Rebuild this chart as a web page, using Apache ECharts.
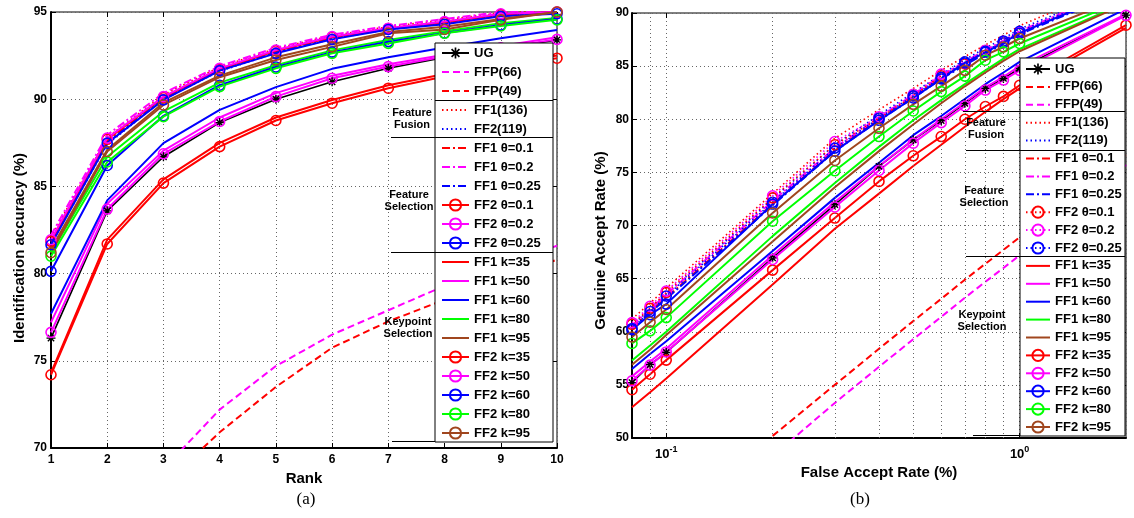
<!DOCTYPE html>
<html><head><meta charset="utf-8">
<script src="https://cdn.jsdelivr.net/npm/echarts@6/dist/echarts.min.js"></script>
<style>html,body{margin:0;padding:0;background:#fff}#c{width:1134px;height:518px}</style>
</head><body><div id="c"></div>
<script>
// ---------- (a) CMC: rank vs identification accuracy ----------
const ranks = [1, 2, 3, 4, 5, 6, 7, 8, 9, 10];
const a_UG      = [76.3, 83.6, 86.7, 88.66, 90.0, 91.0, 91.77, 92.4, 92.9, 93.4];
const a_FFP66   = [60.5, 65.3, 68.8, 72.2, 74.7, 76.5, 77.9, 79.3, 80.5, 81.6];
const a_FFP49   = [58.5, 63.8, 67.9, 70.9, 73.5, 75.75, 77.26, 78.5, 79.7, 80.8];
const a_FF1_136 = [82.1, 87.8, 90.25, 91.85, 92.9, 93.65, 94.15, 94.55, 94.95, 95.1];
const a_FF2_119 = [81.7, 87.4, 90.0, 91.6, 92.65, 93.45, 94.0, 94.35, 94.8, 95.0];
const a_FF1_t01 = [81.9, 87.6, 90.1, 91.7, 92.75, 93.55, 94.05, 94.45, 94.85, 95.0];
const a_FF1_t02 = [82.2, 87.95, 90.35, 91.9, 92.95, 93.7, 94.2, 94.6, 95.0, 95.1];
const a_FF1_t025= [81.8, 87.5, 90.0, 91.65, 92.7, 93.5, 94.05, 94.4, 94.85, 95.0];
const a_FF2_t01 = [81.85, 87.7, 90.1, 91.72, 92.78, 93.55, 94.05, 94.4, 94.85, 95.0];
const a_FF2_t02 = [81.94, 87.77, 90.15, 91.77, 92.82, 93.59, 94.07, 94.45, 94.9, 95.0];
const a_FF2_t025= [81.65, 87.48, 89.96, 91.64, 92.63, 93.43, 94.0, 94.3, 94.75, 94.9];
const a_FF1_k35 = [74.3, 81.95, 85.4, 87.5, 88.95, 89.95, 90.8, 91.45, 92.0, 92.5];
const a_FF1_k50 = [77.2, 84.0, 87.05, 88.95, 90.35, 91.35, 92.0, 92.55, 93.05, 93.55];
const a_FF1_k60 = [77.7, 84.2, 87.48, 89.39, 90.69, 91.74, 92.4, 92.96, 93.5, 93.97];
const a_FF1_k80 = [81.2, 86.7, 89.3, 90.95, 91.95, 92.8, 93.4, 93.9, 94.35, 94.65];
const a_FF1_k95 = [81.4, 87.1, 89.8, 91.35, 92.4, 93.15, 93.85, 94.15, 94.6, 95.0];
const a_FF2_k35 = [74.2, 81.7, 85.19, 87.28, 88.78, 89.77, 90.63, 91.3, 91.9, 92.35];
const a_FF2_k50 = [76.63, 83.7, 86.87, 88.72, 90.15, 91.2, 91.87, 92.45, 92.95, 93.43];
const a_FF2_k60 = [80.13, 86.2, 89.05, 90.8, 91.85, 92.7, 93.3, 93.8, 94.25, 94.6];
const a_FF2_k80 = [81.0, 86.4, 89.0, 90.72, 91.77, 92.63, 93.2, 93.78, 94.2, 94.55];
const a_FF2_k95 = [81.2, 87.0, 89.67, 91.26, 92.25, 93.0, 93.78, 94.0, 94.55, 95.0];

// ---------- (b) ROC: false accept rate vs genuine accept rate ----------
const far = [0.08, 0.09, 0.1, 0.2, 0.3, 0.4, 0.5, 0.6, 0.7, 0.8, 0.9, 1, 2];
const farFFP = [0.2, 0.3, 0.4, 0.5, 0.6, 0.7, 0.8, 0.9, 1, 2];
const farMinorGrid = [0.09, 0.2, 0.3, 0.4, 0.5, 0.6, 0.7, 0.8, 0.9];
const b_UG      = [55.2, 56.9, 58.05, 66.96, 71.96, 75.56, 78.06, 79.87, 81.5, 82.9, 83.84, 84.78, 89.8];
const b_FFP66   = [50.2, 55.0, 58.4, 61.0, 63.1, 64.9, 66.4, 67.7, 68.9, 76.6];
const b_FFP49   = [48.3, 53.3, 56.7, 59.3, 61.4, 63.2, 64.7, 66.0, 67.2, 75.7];
const b_FF1_136 = [61.2, 62.7, 64.1, 73.0, 78.2, 80.9, 82.9, 84.6, 85.9, 87.0, 87.9, 88.8, 93.0];
const b_FF2_119 = [60.6, 62.1, 63.5, 72.5, 77.6, 80.4, 82.5, 84.2, 85.6, 86.7, 87.6, 88.5, 92.6];
const b_FF1_t01 = [60.4, 61.9, 63.2, 72.0, 77.1, 80.0, 82.1, 83.9, 85.2, 86.3, 87.2, 88.1, 92.3];
const b_FF1_t02 = [60.6, 62.1, 63.5, 72.3, 77.3, 80.2, 82.3, 84.1, 85.4, 86.5, 87.4, 88.3, 92.5];
const b_FF1_t025= [60.3, 61.8, 63.1, 71.9, 77.0, 79.9, 82.0, 83.8, 85.1, 86.2, 87.1, 88.0, 92.2];
const b_FF2_t01 = [60.7, 62.2, 63.7, 72.6, 77.6, 80.1, 82.2, 84.1, 85.2, 86.4, 87.2, 88.1, 92.4];
const b_FF2_t02 = [60.86, 62.4, 63.83, 72.8, 77.9, 80.24, 82.34, 84.25, 85.3, 86.5, 87.3, 88.2, 92.5];
const b_FF2_t025= [60.3, 61.9, 63.36, 72.18, 77.28, 80.1, 82.2, 83.94, 85.4, 86.4, 87.37, 88.28, 92.4];
const b_FF1_k35 = [52.9, 54.3, 55.6, 64.45, 69.7, 73.0, 75.6, 77.6, 79.3, 80.7, 81.9, 82.9, 88.6];
const b_FF1_k50 = [55.8, 57.2, 58.4, 67.2, 72.2, 75.6, 78.1, 80.0, 81.6, 83.0, 84.0, 85.0, 89.9];
const b_FF1_k60 = [56.5, 57.9, 59.1, 67.6, 72.6, 75.9, 78.5, 80.3, 81.9, 83.3, 84.4, 85.4, 90.4];
const b_FF1_k80 = [57.3, 58.7, 60.0, 69.0, 74.0, 77.4, 79.9, 81.8, 83.3, 84.6, 85.7, 86.6, 91.0];
const b_FF1_k95 = [56.9, 58.3, 59.7, 68.5, 73.6, 77.0, 79.5, 81.5, 83.1, 84.4, 85.5, 86.4, 90.9];
const b_FF2_k35 = [54.54, 56.0, 57.33, 65.8, 70.7, 74.15, 76.56, 78.37, 80.0, 81.2, 82.15, 83.2, 88.85];
const b_FF2_k50 = [55.38, 56.86, 58.1, 66.8, 71.74, 75.18, 77.75, 79.68, 81.25, 82.75, 83.69, 84.6, 89.78];
const b_FF2_k60 = [60.2, 61.6, 62.6, 72.0, 77.0, 79.9, 82.0, 83.8, 85.3, 86.3, 87.2, 88.1, 92.3];
const b_FF2_k80 = [58.9, 60.08, 61.33, 70.4, 75.15, 78.37, 80.78, 82.6, 84.06, 85.56, 86.34, 87.13, 91.3];
const b_FF2_k95 = [59.5, 60.9, 62.1, 71.18, 76.12, 79.15, 81.4, 83.12, 84.6, 86.03, 86.8, 87.6, 91.6];

const yTicksA = [70, 75, 80, 85, 90, 95];
const yTicksB = [50, 55, 60, 65, 70, 75, 80, 85, 90];

// ---------- styling ----------
const FONT = '"Liberation Sans", Arial, Helvetica, sans-serif';
const COL = {r: '#ff0000', m: '#ff00ff', b: '#0000ff', g: '#00ff00', n: '#a0461e', k: '#000000'};
const STAR = 'path://M0,8.5L20,8.5L20,11.5L0,11.5ZM8.5,0L11.5,0L11.5,20L8.5,20ZM4.06,1.94L18.06,15.94L15.94,18.06L1.94,4.06ZM15.94,1.94L18.06,4.06L4.06,18.06L1.94,15.94Z';
const DASH = [7, 4], DOT = [1.5, 3], DASHDOT = [8, 3, 2, 3];
const CLEAR = 'rgba(0,0,0,0)';

function mkSeries(name, xs, ys, color, kind, gi) {
  const s = {
    name: name, type: 'line', xAxisIndex: gi, yAxisIndex: gi,
    data: xs.map((x, i) => [x, ys[i]]),
    color: color, clip: true, animation: false, silent: true,
    lineStyle: {color: color, width: 2, type: 'solid'},
    itemStyle: {color: CLEAR, borderColor: CLEAR, borderWidth: 0},
    symbol: 'none', showSymbol: false
  };
  if (kind === 'dash') s.lineStyle.type = DASH;
  if (kind === 'dot' || kind === 'dotcirc') { s.lineStyle.type = DOT; s.lineStyle.width = 1.6; }
  if (kind === 'dashdot') s.lineStyle.type = DASHDOT;
  if (kind === 'circ' || kind === 'dotcirc') {
    s.symbol = 'circle'; s.showSymbol = true; s.symbolSize = 10;
    s.itemStyle = {color: CLEAR, borderColor: color, borderWidth: 1.6};
  }
  if (kind === 'star') {
    s.symbol = STAR; s.showSymbol = true; s.symbolSize = 9;
    s.itemStyle = {color: color, borderWidth: 0};
    s.lineStyle.width = 1.6;
  }
  return s;
}

const specA = [
  ['UG', a_UG, 'k', 'star'],
  ['FFP(66)', a_FFP66, 'm', 'dash'],
  ['FFP(49)', a_FFP49, 'r', 'dash'],
  ['FF1(136)', a_FF1_136, 'r', 'dot'],
  ['FF2(119)', a_FF2_119, 'b', 'dot'],
  ['FF1 θ=0.1', a_FF1_t01, 'r', 'dashdot'],
  ['FF1 θ=0.2', a_FF1_t02, 'm', 'dashdot'],
  ['FF1 θ=0.25', a_FF1_t025, 'b', 'dashdot'],
  ['FF2 θ=0.1', a_FF2_t01, 'r', 'circ'],
  ['FF2 θ=0.2', a_FF2_t02, 'm', 'circ'],
  ['FF2 θ=0.25', a_FF2_t025, 'b', 'circ'],
  ['FF1 k=35', a_FF1_k35, 'r', 'solid'],
  ['FF1 k=50', a_FF1_k50, 'm', 'solid'],
  ['FF1 k=60', a_FF1_k60, 'b', 'solid'],
  ['FF1 k=80', a_FF1_k80, 'g', 'solid'],
  ['FF1 k=95', a_FF1_k95, 'n', 'solid'],
  ['FF2 k=35', a_FF2_k35, 'r', 'circ'],
  ['FF2 k=50', a_FF2_k50, 'm', 'circ'],
  ['FF2 k=60', a_FF2_k60, 'b', 'circ'],
  ['FF2 k=80', a_FF2_k80, 'g', 'circ'],
  ['FF2 k=95', a_FF2_k95, 'n', 'circ']
];
const specB = [
  ['UG', b_UG, 'k', 'star', far],
  ['FFP(66)', b_FFP66, 'r', 'dash', farFFP],
  ['FFP(49)', b_FFP49, 'm', 'dash', farFFP],
  ['FF1(136)', b_FF1_136, 'r', 'dot', far],
  ['FF2(119)', b_FF2_119, 'b', 'dot', far],
  ['FF1 θ=0.1', b_FF1_t01, 'r', 'dashdot', far],
  ['FF1 θ=0.2', b_FF1_t02, 'm', 'dashdot', far],
  ['FF1 θ=0.25', b_FF1_t025, 'b', 'dashdot', far],
  ['FF2 θ=0.1', b_FF2_t01, 'r', 'dotcirc', far],
  ['FF2 θ=0.2', b_FF2_t02, 'm', 'dotcirc', far],
  ['FF2 θ=0.25', b_FF2_t025, 'b', 'dotcirc', far],
  ['FF1 k=35', b_FF1_k35, 'r', 'solid', far],
  ['FF1 k=50', b_FF1_k50, 'm', 'solid', far],
  ['FF1 k=60', b_FF1_k60, 'b', 'solid', far],
  ['FF1 k=80', b_FF1_k80, 'g', 'solid', far],
  ['FF1 k=95', b_FF1_k95, 'n', 'solid', far],
  ['FF2 k=35', b_FF2_k35, 'r', 'circ', far],
  ['FF2 k=50', b_FF2_k50, 'm', 'circ', far],
  ['FF2 k=60', b_FF2_k60, 'b', 'circ', far],
  ['FF2 k=80', b_FF2_k80, 'g', 'circ', far],
  ['FF2 k=95', b_FF2_k95, 'n', 'circ', far]
];

const series = [];
specA.forEach(s => series.push(mkSeries(s[0], ranks, s[1], COL[s[2]], s[3], 0)));
// right-chart series use a trailing space so the two legends stay independent
specB.forEach(s => series.push(mkSeries(s[0] + ' ', s[4], s[1], COL[s[2]], s[3], 1)));

const gridLine = {show: true, lineStyle: {color: '#666', width: 1, type: [1, 3]}};
// minor vertical grid lines of the log axis
series[specA.length].markLine = {
  silent: true, symbol: ['none', 'none'], label: {show: false}, animation: false,
  lineStyle: {color: '#666', width: 1, type: [1, 3]},
  data: farMinorGrid.map(v => ({xAxis: v}))
};

const tickLabel = {color: '#000', fontSize: 12, fontWeight: 'bold', fontFamily: FONT};
const axisLine = {show: true, onZero: false, lineStyle: {color: '#000', width: 2}};
const axisTick = {show: true, inside: true, length: 5, lineStyle: {color: '#000', width: 1}};
const nameStyle = {color: '#000', fontSize: 15, fontWeight: 'bold', fontFamily: FONT};
const mirror = {axisLine: {show: false}, axisLabel: {show: false}, splitLine: {show: false}, axisTick: axisTick};

const legendText = {color: '#000', fontSize: 13, fontWeight: 'bold', fontFamily: FONT, lineHeight: 14};

function hline(x1, x2, y) {
  return {type: 'line', z: 6, silent: true, shape: {x1: x1, y1: y, x2: x2, y2: y},
          style: {stroke: '#000', lineWidth: 1}};
}
function groupLabel(x, y, text, lh) {
  return {type: 'text', z: 7, silent: true, x: x, y: y,
          style: {text: text, fill: '#000', font: 'bold 11px ' + FONT, align: 'center',
                  verticalAlign: 'middle', lineHeight: lh}};
}
function logLabel(v) {
  const e = Math.log10(v); const r = Math.round(e);
  if (Math.abs(e - r) > 1e-6) return '';
  return '{b|10}{s|' + r + '}';
}

const option = {
  animation: false,
  backgroundColor: '#ffffff',
  grid: [
    {left: 51, top: 12, width: 506, height: 436, show: true, borderColor: '#000', borderWidth: 1, backgroundColor: CLEAR},
    {left: 632, top: 13, width: 494, height: 425, show: true, borderColor: '#000', borderWidth: 1, backgroundColor: CLEAR}
  ],
  xAxis: [
    {gridIndex: 0, type: 'value', min: ranks[0], max: ranks[ranks.length - 1], interval: 1,
     name: 'Rank', nameLocation: 'middle', nameGap: 16, nameTextStyle: nameStyle,
     axisLine: axisLine, axisTick: axisTick, splitLine: gridLine,
     axisLabel: Object.assign({margin: 6}, tickLabel)},
    {gridIndex: 1, type: 'log', logBase: 10, min: far[0], max: far[far.length - 1],
     name: 'False Accept Rate (%)', nameLocation: 'middle', nameGap: 24, nameTextStyle: nameStyle,
     axisLine: axisLine, axisTick: axisTick, splitLine: gridLine,
     axisLabel: Object.assign({margin: 7, showMinLabel: false, showMaxLabel: false, formatter: logLabel,
       rich: {b: {fontSize: 13, fontWeight: 'bold', fontFamily: FONT, color: '#000'},
              s: {fontSize: 9, fontWeight: 'bold', fontFamily: FONT, color: '#000', padding: [0, 0, 9, 0]}}
     }, tickLabel)},
    Object.assign({gridIndex: 0, type: 'value', position: 'top', min: ranks[0], max: ranks[ranks.length - 1], interval: 1}, mirror),
    Object.assign({gridIndex: 1, type: 'log', logBase: 10, position: 'top', min: far[0], max: far[far.length - 1]}, mirror)
  ],
  yAxis: [
    {gridIndex: 0, type: 'value', min: yTicksA[0], max: yTicksA[yTicksA.length - 1], interval: 5,
     name: 'Identification accuracy (%)', nameLocation: 'middle', nameGap: 24,
     nameTextStyle: Object.assign({padding: [0, 36, 0, 0]}, nameStyle),
     axisLine: axisLine, axisTick: axisTick, splitLine: gridLine,
     axisLabel: Object.assign({margin: 4}, tickLabel)},
    {gridIndex: 1, type: 'value', min: yTicksB[0], max: yTicksB[yTicksB.length - 1], interval: 5,
     name: 'Genuine Accept Rate (%)', nameLocation: 'middle', nameGap: 24,
     nameTextStyle: Object.assign({padding: [0, 30, 0, 0]}, nameStyle),
     axisLine: axisLine, axisTick: axisTick, splitLine: gridLine,
     axisLabel: Object.assign({margin: 3}, tickLabel)},
    Object.assign({gridIndex: 0, type: 'value', position: 'right', min: yTicksA[0], max: yTicksA[yTicksA.length - 1], interval: 5}, mirror),
    Object.assign({gridIndex: 1, type: 'value', position: 'right', min: yTicksB[0], max: yTicksB[yTicksB.length - 1], interval: 5}, mirror)
  ],
  legend: [
    {orient: 'vertical', left: 441, top: 46, padding: 0, itemWidth: 27, itemHeight: 14, itemGap: 5,
     selectedMode: false, z: 10, textStyle: legendText, data: specA.map(s => s[0])},
    {orient: 'vertical', left: 1025, top: 62, padding: 0, itemWidth: 24, itemHeight: 14, itemGap: 3.9,
     selectedMode: false, z: 10, textStyle: legendText, data: specB.map(s => s[0] + ' ')}
  ],
  graphic: [
    {type: 'rect', z: 5, silent: true, shape: {x: 435, y: 43, width: 118, height: 399},
     style: {fill: '#fff', stroke: '#000', lineWidth: 1}},
    {type: 'rect', z: 5, silent: true, shape: {x: 1020, y: 58, width: 105, height: 378},
     style: {fill: '#fff', stroke: '#000', lineWidth: 1}},
    hline(435, 553, 100.5), hline(391, 553, 137.5), hline(391, 553, 252.5), hline(392, 435, 441.5),
    hline(963, 1125, 111.5), hline(966, 1125, 150.5), hline(966, 1125, 256.5), hline(973, 1020, 435.5),
    groupLabel(412, 118.5, 'Feature\nFusion', 12),
    groupLabel(409, 201, 'Feature\nSelection', 12),
    groupLabel(408, 328, 'Keypoint\nSelection', 12),
    groupLabel(986, 129, 'Feature\nFusion', 12),
    groupLabel(984, 196.5, 'Feature\nSelection', 12),
    groupLabel(982, 321, 'Keypoint\nSelection', 12),
    {type: 'text', z: 7, silent: true, x: 306, y: 500,
     style: {text: '(a)', fill: '#000', font: '17px "Liberation Serif", "Times New Roman", serif', align: 'center', verticalAlign: 'middle'}},
    {type: 'text', z: 7, silent: true, x: 860, y: 500,
     style: {text: '(b)', fill: '#000', font: '17px "Liberation Serif", "Times New Roman", serif', align: 'center', verticalAlign: 'middle'}}
  ],
  series: series
};

const chart = echarts.init(document.getElementById('c'), null, {renderer: 'canvas', width: 1134, height: 518});
chart.setOption(option);
</script>
</body></html>
